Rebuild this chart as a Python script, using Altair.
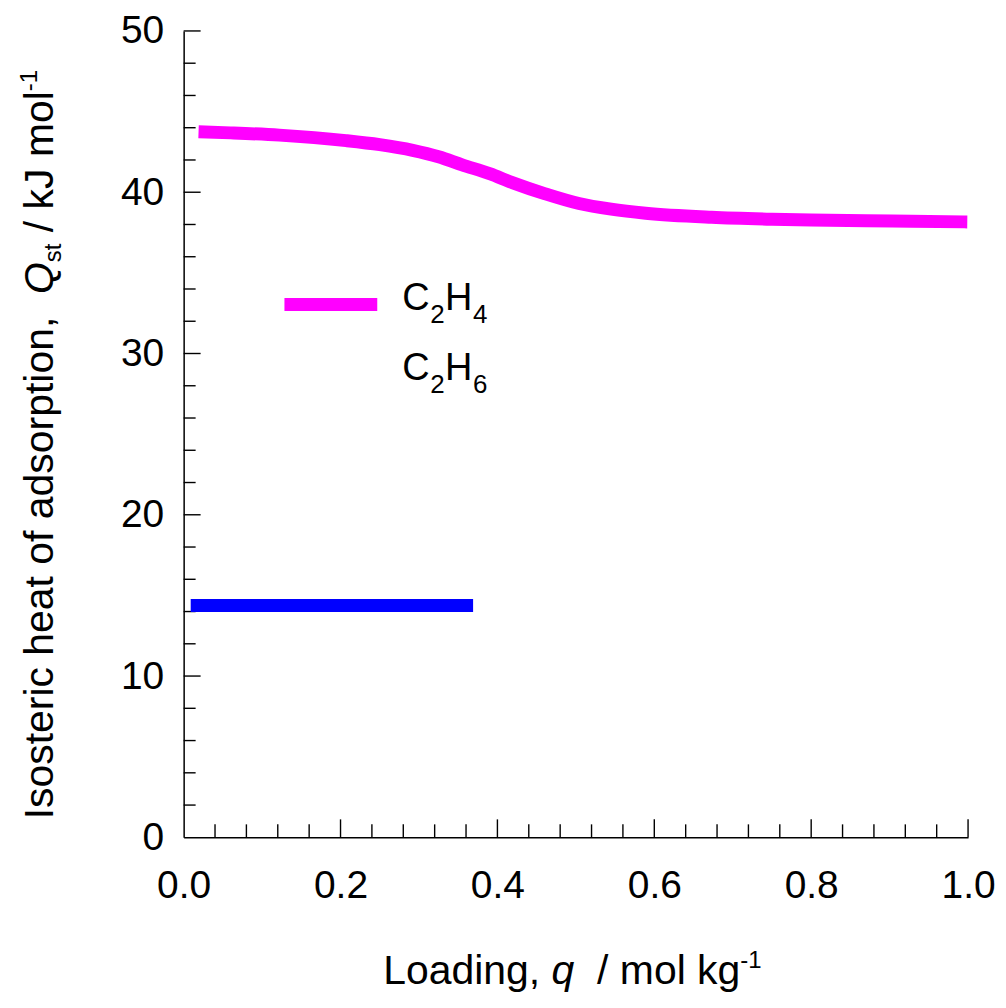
import altair as alt
import pandas as pd

# C2H4 isosteric heat curve
q_c2h4 = [0.019, 0.06, 0.122, 0.207, 0.25, 0.292, 0.325, 0.355, 0.39, 0.419, 0.461, 0.504, 0.545, 0.589, 0.673, 0.75, 0.80, 0.87, 0.928, 0.999]
Q_c2h4 = [43.75, 43.68, 43.54, 43.2, 42.95, 42.6, 42.2, 41.7, 41.15, 40.6, 39.9, 39.3, 38.95, 38.7, 38.45, 38.33, 38.28, 38.23, 38.2, 38.16]

# C2H6 isosteric heat (flat line)
q_c2h6 = [0.009, 0.369]
Q_c2h6 = [14.37, 14.37]

# axis tick positions
x_labels = [0.0, 0.2, 0.4, 0.6, 0.8, 1.0]
x_major = [0.2, 0.4, 0.6, 0.8, 1.0]
x_minor = [0.04, 0.08, 0.12, 0.16, 0.24, 0.28, 0.32, 0.36, 0.44, 0.48, 0.52, 0.56,
           0.64, 0.68, 0.72, 0.76, 0.84, 0.88, 0.92, 0.96]
y_labels = [0, 10, 20, 30, 40, 50]
y_major = [10, 20, 30, 40, 50]
y_minor = [2, 4, 6, 8, 12, 14, 16, 18, 22, 24, 26, 28, 32, 34, 36, 38, 42, 44, 46, 48]

# legend subscripts
sub_digits = ["4", "6"]

FONT = "Liberation Sans"
FS = 39      # tick labels
TF = 41      # axis titles
SS = 24      # sub/superscripts in titles
LF = 38      # legend text
LS = 26      # legend subscripts
W, H = 786, 808

# Arial/Liberation advance widths (per 1000 em) for chaining title pieces
ADV = {"I": 278, "s": 500, "o": 556, "t": 278, "e": 556, "r": 333, "i": 222, "c": 500,
       " ": 278, "h": 556, "a": 556, "f": 278, "d": 556, "p": 556, "n": 556, ",": 278,
       "Q": 778, "/": 278, "k": 500, "J": 500, "m": 833, "l": 222, "g": 556, "L": 556,
       "q": 556, "-": 333, "1": 556}


def width(s, size):
    return sum(ADV.get(ch, 556) for ch in s) * size / 1000.0


df1 = pd.DataFrame({"q": q_c2h4, "Q": Q_c2h4})
df2 = pd.DataFrame({"q": q_c2h6, "Q": Q_c2h6})

xs = alt.Scale(domain=[0, 1], nice=False, zero=False)
ys = alt.Scale(domain=[0, 50], nice=False, zero=False)

xaxis = alt.Axis(values=x_labels, format=".1f", ticks=False, grid=False, title=None,
                 domainColor="black", domainWidth=1.5, labelFont=FONT, labelFontSize=FS,
                 labelColor="black", labelPadding=29, labelFlush=False)
yaxis = alt.Axis(values=y_labels, ticks=False, grid=False, title=None,
                 domainColor="black", domainWidth=1.5, labelFont=FONT, labelFontSize=FS,
                 labelColor="black", labelPadding=20, labelFlush=False)

base_c2h4 = alt.Chart(df1).mark_line(color="#ff00ff", strokeWidth=13, strokeCap="butt",
                                     interpolate="monotone").encode(
    x=alt.X("q:Q", scale=xs, axis=xaxis),
    y=alt.Y("Q:Q", scale=ys, axis=yaxis),
)
line_c2h6 = alt.Chart(df2).mark_line(color="#0000ff", strokeWidth=13, strokeCap="butt").encode(
    x=alt.X("q:Q", scale=xs), y=alt.Y("Q:Q", scale=ys))

# inward ticks
xmaj = alt.Chart(pd.DataFrame({"v": x_major})).mark_rule(color="black", strokeWidth=1.4).encode(
    x=alt.X("v:Q", scale=xs), y=alt.value(H), y2=alt.value(H - 18))
xmin = alt.Chart(pd.DataFrame({"v": x_minor})).mark_rule(color="black", strokeWidth=1.4).encode(
    x=alt.X("v:Q", scale=xs), y=alt.value(H), y2=alt.value(H - 13))
ymaj = alt.Chart(pd.DataFrame({"v": y_major})).mark_rule(color="black", strokeWidth=1.4).encode(
    y=alt.Y("v:Q", scale=ys), x=alt.value(0), x2=alt.value(17))
ymin = alt.Chart(pd.DataFrame({"v": y_minor})).mark_rule(color="black", strokeWidth=1.4).encode(
    y=alt.Y("v:Q", scale=ys), x=alt.value(0), x2=alt.value(12))


def txt(text, x, y, size=FS, style="normal", angle=0):
    kw = dict(text=text, font=FONT, fontSize=size, fontStyle=style, align="left",
              baseline="alphabetic", color="black")
    if angle:
        kw["angle"] = angle
    return alt.Chart(pd.DataFrame({"a": [0]})).mark_text(**kw).encode(
        x=alt.value(x), y=alt.value(y))


# legend
leg_line = alt.Chart(pd.DataFrame({"a": [0]})).mark_rule(color="#ff00ff", strokeWidth=13).encode(
    x=alt.value(101), x2=alt.value(194), y=alt.value(274))
legend = [leg_line]
for i, d in enumerate(sub_digits):
    dy = 70 * i
    legend += [txt("C", 219, 280 + dy, LF), txt("2", 247, 293 + dy, LS),
               txt("H", 262, 280 + dy, LF), txt(d, 290, 293 + dy, LS)]

# title pieces: (gap in spaces before, text, size, style, baseline shift: + = lower)
x_pieces = [(0, "Loading,", TF, "normal", 0), (1, "q", TF, "italic", 0),
            (2, "/", TF, "normal", 0), (1, "mol", TF, "normal", 0),
            (1, "kg", TF, "normal", 0), (0, "-1", SS, "normal", -16)]
y_pieces = [(0, "Isosteric", TF, "normal", 0), (1, "heat", TF, "normal", 0),
            (1, "of", TF, "normal", 0), (1, "adsorption,", TF, "normal", 0),
            (2, "Q", TF, "italic", 0), (0, "st", SS, "normal", 8),
            (1, "/", TF, "normal", 0), (1, "kJ", TF, "normal", 0),
            (1, "mol", TF, "normal", 0), (0, "-1", SS, "normal", -16)]

# x-axis title, left to right
xt = []
cx = 384 - 184
xb = 955
for gap, t, sz, st, sh in x_pieces:
    cx += gap * width(" ", TF)
    xt.append(txt(t, cx, xb + sh, sz, st))
    cx += width(t, sz)

# y-axis title, rotated, reading upward
yt = []
cy = 790
yb = -131
for gap, t, sz, st, sh in y_pieces:
    cy -= gap * width(" ", TF)
    yt.append(txt(t, yb + sh, cy, sz, st, angle=270))
    cy -= width(t, sz)

chart = alt.layer(xmin, xmaj, ymin, ymaj, base_c2h4, line_c2h6, *legend, *xt, *yt).properties(
    width=W, height=H,
    autosize=alt.AutoSizeParams(type="none"),
    padding={"left": 176, "top": 22, "right": 30, "bottom": 160},
).configure_view(stroke=None)

chart.save("out.html", embed_options={"renderer": "svg", "actions": False})
